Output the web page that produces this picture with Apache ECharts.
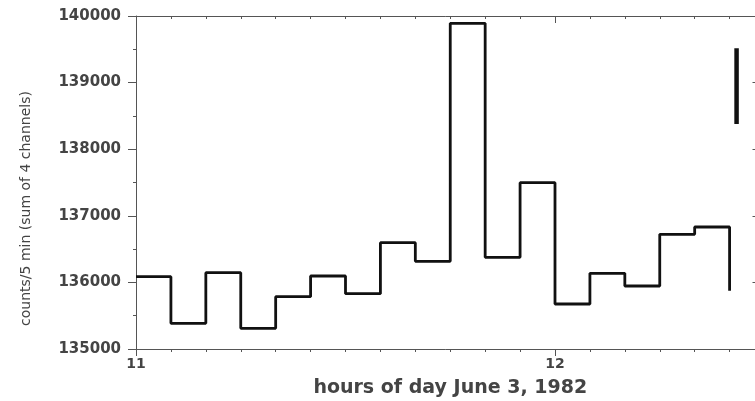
<!DOCTYPE html>
<html>
<head>
<meta charset="utf-8">
<script src="https://cdn.jsdelivr.net/npm/echarts@6/dist/echarts.min.js"></script>
<style>
  html, body { margin: 0; padding: 0; background: #fff; }
  #chart { width: 755px; height: 401px; }
</style>
</head>
<body>
<div id="chart"></div>
<script>
// bin start times, minutes of day (5 min bins), last entry is where the trace drops off
const binStartMin = [660, 665, 670, 675, 680, 685, 690, 695, 700, 705, 710, 715, 720, 725, 730, 735, 740, 745];
const counts = [136086, 135386, 136146, 135311, 135785, 136096, 135830, 136596, 136317,
                139890, 136377, 137497, 135676, 136137, 135946, 136722, 136832, 135875];

// error bar drawn at the right
const errX = [746, 746];
const errY = [139515, 138378];

const xTickHours = { 660: "11", 720: "12" };

const textColor = "#444";
const axisColor = "#555";

const chart = echarts.init(document.getElementById("chart"));

const steps = binStartMin.map((t, i) => [t, counts[i]]);
const bar = errX.map((t, i) => [t, errY[i]]);

const xCommon = {
  type: "value",
  min: 660,
  max: 750,
  interval: 60,
  splitLine: { show: false },
  axisLine: { show: true, onZero: false, lineStyle: { color: axisColor, width: 1 } },
  minorTick: { show: true, splitNumber: 12, length: 3, lineStyle: { color: axisColor } },
  minorSplitLine: { show: false },
};

const yCommon = {
  type: "value",
  min: 135000,
  max: 140000,
  interval: 1000,
  splitLine: { show: false },
  axisLine: { show: true, lineStyle: { color: axisColor, width: 1 } },
  minorSplitLine: { show: false },
};

const option = {
  backgroundColor: "#fff",
  animation: false,
  grid: { left: 136, right: -9.5, top: 16, bottom: 52, outerBoundsMode: "none", containLabel: false },
  xAxis: [
    {
      ...xCommon,
      position: "bottom",
      name: "hours of day June 3, 1982",
      nameLocation: "middle",
      nameGap: 30,
      nameTextStyle: { color: textColor, fontSize: 19, fontWeight: "bold", fontFamily: "DejaVu Sans" },
      axisTick: { show: true, length: 7, lineStyle: { color: axisColor } },
      axisLabel: {
        color: textColor, fontSize: 14, fontWeight: "bold", fontFamily: "DejaVu Sans", margin: 8,
        formatter: v => xTickHours[v] || ""
      },
    },
    {
      ...xCommon,
      position: "top",
      axisTick: { show: true, inside: true, length: 7, lineStyle: { color: axisColor } },
      axisLabel: { show: false },
    }
  ],
  yAxis: [
    {
      ...yCommon,
      position: "left",
      name: "counts/5 min (sum of 4 channels)",
      nameLocation: "middle",
      nameGap: 103,
      nameTextStyle: { color: textColor, fontSize: 14, fontFamily: "DejaVu Sans", padding: [0, 52, 0, 0] },
      axisTick: { show: true, length: 8, lineStyle: { color: axisColor } },
      minorTick: { show: true, splitNumber: 2, length: 3, lineStyle: { color: axisColor } },
      axisLabel: {
        color: textColor, fontSize: 15, fontWeight: "bold", fontFamily: "DejaVu Sans", margin: 15,
        formatter: v => String(v)
      },
    },
    {
      ...yCommon,
      position: "right",
      axisTick: { show: true, inside: true, length: 12, lineStyle: { color: axisColor } },
      axisLabel: { show: false },
    }
  ],
  series: [
    {
      name: "counts",
      type: "line",
      step: "end",
      data: steps,
      showSymbol: false,
      lineStyle: { color: "#111", width: 2.8 },
    },
    {
      name: "error",
      type: "line",
      data: bar,
      showSymbol: false,
      lineStyle: { color: "#111", width: 4.5, cap: "butt" },
    }
  ]
};

chart.setOption(option, true);
window.addEventListener("resize", () => chart.resize());
</script>
</body>
</html>
